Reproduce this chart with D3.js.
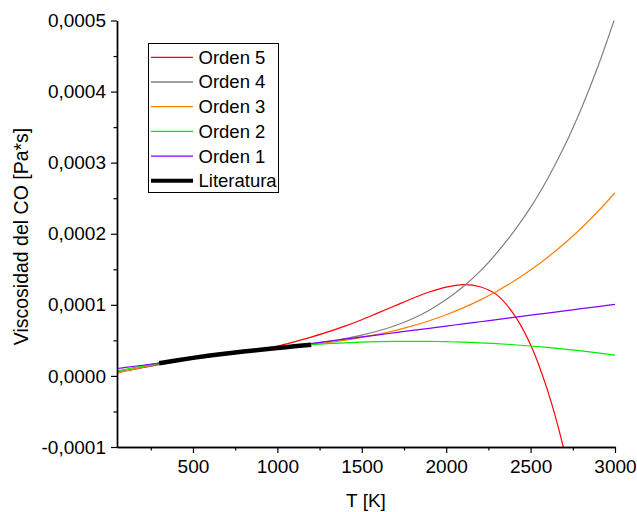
<!DOCTYPE html>
<html>
<head>
<meta charset="utf-8">
<script src="https://cdn.jsdelivr.net/npm/d3@7"></script>
<style>
  html, body { margin: 0; padding: 0; background: #fff; }
  svg { display: block; font-family: "Liberation Sans", Arial, sans-serif; }
</style>
</head>
<body>
<svg id="chart" width="637" height="512"></svg>
<script>
// Temperature grid (K) shared by the polynomial fits
const temperatures = [50, 100, 200, 300, 400, 500, 600, 700, 800, 900, 1000,
  1100, 1200, 1300, 1400, 1500, 1600, 1700, 1800, 1900, 2000,
  2100, 2200, 2300, 2400, 2500, 2600, 2700, 2800, 2900, 3000];

// Viscosity of CO [Pa*s] from each polynomial order
const orden5 = [5.0e-6, 7.0e-6, 1.15e-5, 1.60e-5, 2.05e-5, 2.45e-5, 2.80e-5, 3.10e-5, 3.40e-5, 3.75e-5, 4.20e-5,
  4.80e-5, 5.45e-5, 6.20e-5, 7.00e-5, 7.90e-5, 8.90e-5, 9.90e-5, 1.090e-4, 1.180e-4, 1.250e-4,
  1.285e-4, 1.255e-4, 1.140e-4, 8.70e-5, 4.40e-5, -2.00e-5, -1.060e-4, -2.200e-4];
const orden4 = [5.5e-6, 7.5e-6, 1.20e-5, 1.65e-5, 2.10e-5, 2.50e-5, 2.85e-5, 3.15e-5, 3.45e-5, 3.70e-5, 3.95e-5,
  4.20e-5, 4.50e-5, 4.85e-5, 5.25e-5, 5.75e-5, 6.35e-5, 7.10e-5, 8.05e-5, 9.25e-5, 1.075e-4,
  1.255e-4, 1.470e-4, 1.730e-4, 2.030e-4, 2.370e-4, 2.770e-4, 3.230e-4, 3.760e-4, 4.360e-4, 5.040e-4];
const orden3 = [3.61e-6, 6.90e-6, 1.277e-5, 1.780e-5, 2.209e-5, 2.577e-5, 2.894e-5, 3.173e-5, 3.426e-5, 3.663e-5, 3.897e-5,
  4.138e-5, 4.400e-5, 4.693e-5, 5.029e-5, 5.420e-5, 5.877e-5, 6.413e-5, 7.038e-5, 7.764e-5, 8.603e-5,
  9.567e-5, 1.0667e-4, 1.1915e-4, 1.3323e-4, 1.4901e-4, 1.6663e-4, 1.8619e-4, 2.0781e-4, 2.3161e-4, 2.5770e-4];
const orden2 = [7.00e-6, 9.34e-6, 1.385e-5, 1.807e-5, 2.201e-5, 2.570e-5, 2.910e-5, 3.223e-5, 3.509e-5, 3.769e-5, 4.000e-5,
  4.204e-5, 4.382e-5, 4.532e-5, 4.654e-5, 4.751e-5, 4.819e-5, 4.860e-5, 4.873e-5, 4.861e-5, 4.820e-5,
  4.752e-5, 4.658e-5, 4.535e-5, 4.386e-5, 4.210e-5, 4.006e-5, 3.774e-5, 3.516e-5, 3.231e-5, 2.918e-5];
const orden1 = [1.04e-5, 1.19e-5, 1.50e-5, 1.81e-5, 2.11e-5, 2.42e-5, 2.72e-5, 3.03e-5, 3.34e-5, 3.64e-5, 3.95e-5,
  4.25e-5, 4.56e-5, 4.87e-5, 5.17e-5, 5.48e-5, 5.78e-5, 6.09e-5, 6.40e-5, 6.70e-5, 7.01e-5,
  7.31e-5, 7.62e-5, 7.93e-5, 8.23e-5, 8.54e-5, 8.84e-5, 9.15e-5, 9.46e-5, 9.76e-5, 1.007e-4];

// Tabulated literature data
const literaturaT = [300, 400, 500, 600, 700, 800, 900, 1000, 1100, 1200];
const literatura = [1.78e-5, 2.18e-5, 2.54e-5, 2.87e-5, 3.16e-5, 3.43e-5, 3.69e-5, 3.93e-5, 4.16e-5, 4.40e-5];

// Axis ticks
const xTicks = [500, 1000, 1500, 2000, 2500, 3000];
const xMinorTicks = [250, 750, 1250, 1750, 2250, 2750];
const yTicks = [-0.0001, 0, 0.0001, 0.0002, 0.0003, 0.0004, 0.0005];
const yMinorTicks = [-0.00005, 0.00005, 0.00015, 0.00025, 0.00035, 0.00045];

const legendNames = ["Orden 5", "Orden 4", "Orden 3", "Orden 2", "Orden 1", "Literatura"];
const seriesColors = ["#ff0000", "#808080", "#ff8000", "#00ee00", "#8000ff", "#000000"];

// ---- layout ----
const plot = { left: 117, right: 615, top: 20.5, bottom: 447 };

const svg = d3.select("#chart");
const x = d3.scaleLinear().domain([50, 3000]).range([plot.left, plot.right]);
const y = d3.scaleLinear().domain([-0.0001, 0.0005]).range([plot.bottom, plot.top]);

const locale = d3.formatLocale({ decimal: ",", thousands: "", grouping: [3], currency: ["", ""], minus: "-" });
const yFmt = locale.format(".4f");
const xFmt = locale.format("d");

svg.append("rect").attr("width", 637).attr("height", 512).attr("fill", "#fff");

svg.append("defs").append("clipPath").attr("id", "plot-clip")
  .append("rect")
  .attr("x", plot.left).attr("y", plot.top)
  .attr("width", plot.right - plot.left).attr("height", plot.bottom - plot.top);

// ---- curves ----
const line = d3.line()
  .x(d => x(d[0]))
  .y(d => y(d[1]))
  .curve(d3.curveCatmullRom.alpha(0.5));

const fits = [orden5, orden4, orden3, orden2, orden1];
const curves = svg.append("g").attr("clip-path", "url(#plot-clip)");
fits.forEach((vals, i) => {
  const pts = vals.map((v, k) => [temperatures[k], v]);
  curves.append("path")
    .attr("d", line(pts))
    .attr("fill", "none")
    .attr("stroke", seriesColors[i])
    .attr("stroke-width", 1.2);
});
curves.append("path")
  .attr("d", line.curve(d3.curveMonotoneX)(literatura.map((v, k) => [literaturaT[k], v])))
  .attr("fill", "none")
  .attr("stroke", "#000")
  .attr("stroke-width", 4.5)
  .attr("stroke-linecap", "butt");

// ---- axes ----
const axisStyle = g => {
  g.select(".domain").attr("stroke", "#000").attr("stroke-width", 1.4);
  g.selectAll(".tick line").attr("stroke", "#000").attr("stroke-width", 1.2);
  g.selectAll(".tick text").attr("fill", "#000").style("font-size", "19px")
    .style("font-family", "'Liberation Sans', Arial, sans-serif");
};

svg.append("g")
  .attr("transform", `translate(0,${plot.bottom})`)
  .call(d3.axisBottom(x).tickValues(xMinorTicks).tickSize(3.5).tickSizeOuter(0).tickFormat(""))
  .call(axisStyle);
svg.append("g")
  .attr("transform", `translate(0,${plot.bottom})`)
  .call(d3.axisBottom(x).tickValues(xTicks).tickSize(6).tickSizeOuter(0).tickPadding(7).tickFormat(xFmt))
  .call(axisStyle);

svg.append("g")
  .attr("transform", `translate(${plot.left},0)`)
  .call(d3.axisLeft(y).tickValues(yMinorTicks).tickSize(3.5).tickSizeOuter(0).tickFormat(""))
  .call(axisStyle);
svg.append("g")
  .attr("transform", `translate(${plot.left},0)`)
  .call(d3.axisLeft(y).tickValues(yTicks).tickSize(6).tickSizeOuter(0).tickPadding(5).tickFormat(yFmt))
  .call(axisStyle);

// ---- axis titles ----
svg.append("text")
  .attr("x", (plot.left + plot.right) / 2)
  .attr("y", 507)
  .attr("text-anchor", "middle")
  .style("font-size", "19px")
  .text("T [K]");

svg.append("text")
  .attr("transform", `translate(28,${236.5}) rotate(-90)`)
  .attr("text-anchor", "middle")
  .style("font-size", "19.5px")
  .text("Viscosidad del CO [Pa*s]");

// ---- legend ----
const legend = svg.append("g");
legend.append("rect")
  .attr("x", 148.5).attr("y", 43.5)
  .attr("width", 130).attr("height", 149)
  .attr("fill", "#fff").attr("stroke", "#000").attr("stroke-width", 1);

legendNames.forEach((name, i) => {
  const cy = 57.3 + i * 24.7;
  legend.append("line")
    .attr("x1", 151).attr("x2", 193)
    .attr("y1", cy).attr("y2", cy)
    .attr("stroke", seriesColors[i])
    .attr("stroke-width", i === 5 ? 4 : 1.3);
  legend.append("text")
    .attr("x", 198.5).attr("y", cy)
    .attr("dy", "0.35em")
    .style("font-size", "18.5px")
    .text(name);
});
</script>
</body>
</html>
